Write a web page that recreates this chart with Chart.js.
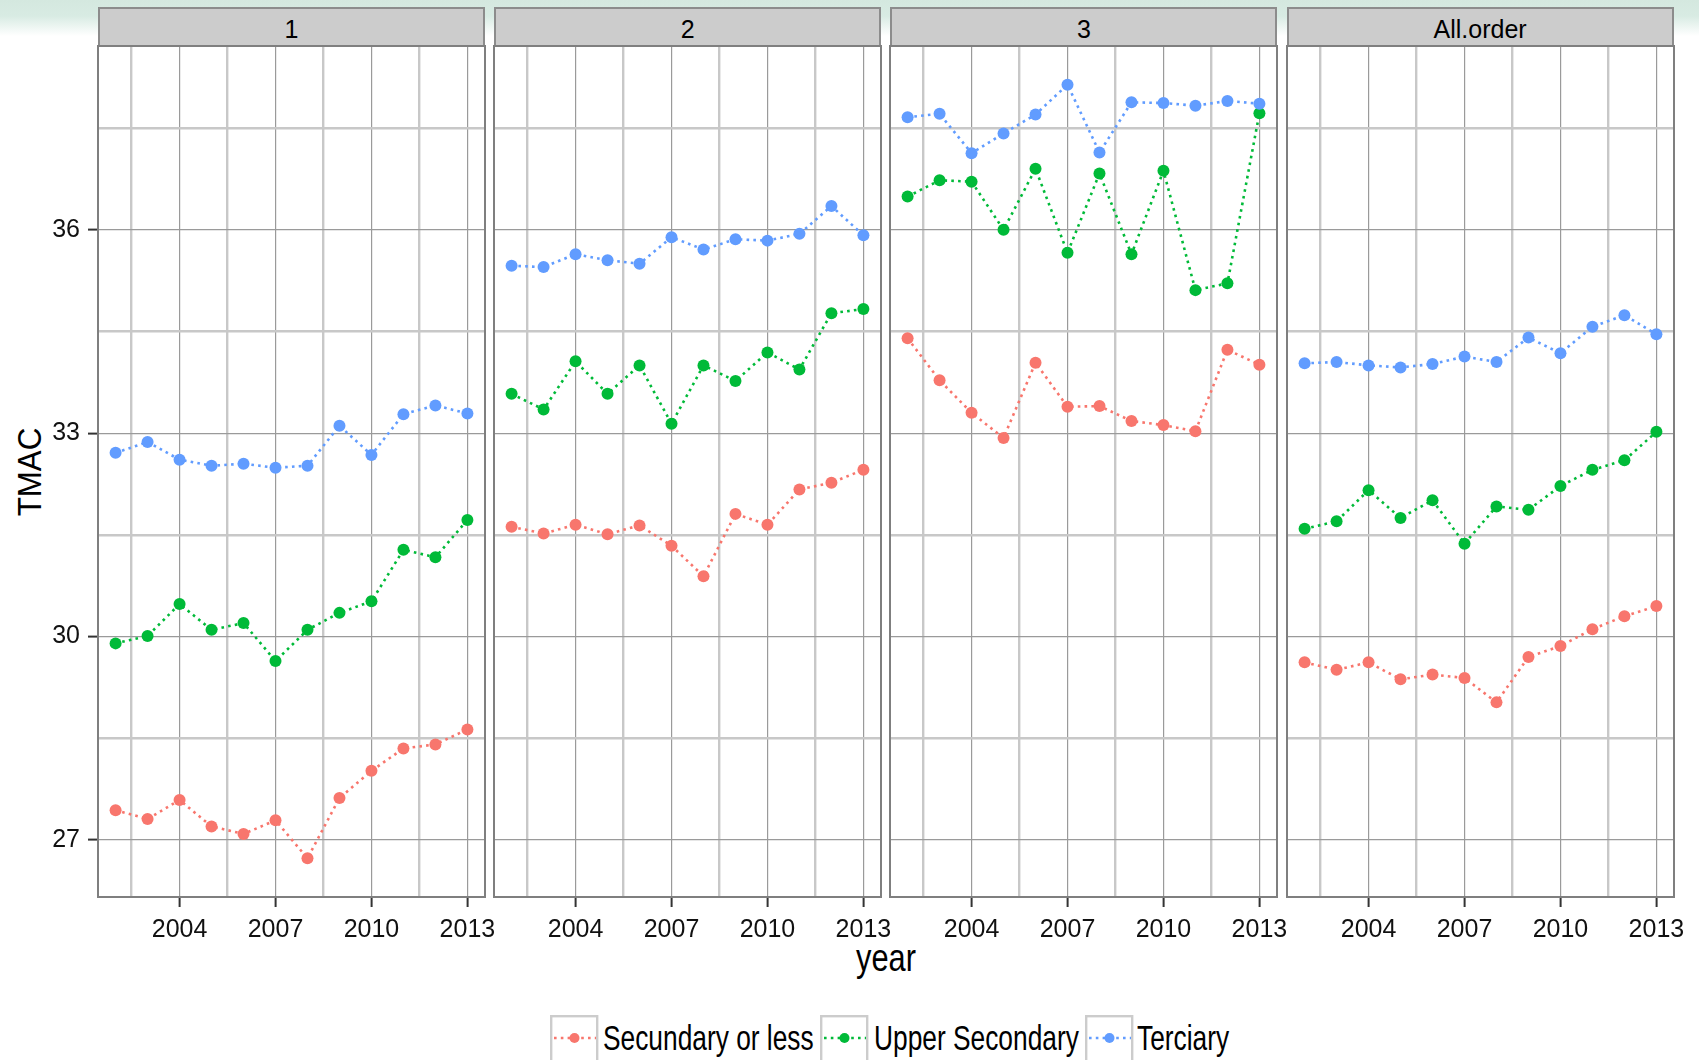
<!DOCTYPE html>
<html>
<head>
<meta charset="utf-8">
<title>TMAC by education level</title>
<script src="https://cdn.jsdelivr.net/npm/chart.js@4.4.1/dist/chart.umd.min.js"></script>
<style>
  html, body { margin: 0; padding: 0; }
  body {
    width: 1699px; height: 1060px; overflow: hidden; position: relative;
    background: #ffffff;
    font-family: "Liberation Sans", Arial, sans-serif; color: #000;
  }
  .band {
    position: absolute; left: 0; top: 0; width: 1699px; height: 40px;
    background: linear-gradient(#d4e8df 0px, #d8ebe3 16px, rgba(255,255,255,0) 36px);
  }
  .strip {
    position: absolute; top: 7px; height: 40px; box-sizing: border-box;
    background: #cccccc; border: 2px solid #8c8c8c; border-bottom: none;
    display: flex; align-items: center; justify-content: center;
    font-size: 25px; padding-top: 2px;
  }
  canvas.panel { position: absolute; }
  .ytitle {
    position: absolute; left: 29px; top: 472px; font-size: 34px; white-space: nowrap;
    transform: translate(-50%, -50%) rotate(-90deg) scaleX(0.92);
  }
  .xtitle {
    position: absolute; left: 886px; top: 958px; font-size: 39px; white-space: nowrap;
    transform: translate(-50%, -50%) scaleX(0.79);
  }
  .lkey { position: absolute; top: 1015px; }
  .ltext {
    position: absolute; top: 1017px; font-size: 35px; line-height: 42px; white-space: nowrap;
    transform: scaleX(0.752); transform-origin: left center;
  }
</style>
</head>
<body>
<div class="band"></div>
<div class="ytitle">TMAC</div>
<div class="xtitle">year</div>

<script>
// categories
const years = [2002, 2003, 2004, 2005, 2006, 2007, 2008, 2009, 2010, 2011, 2012, 2013];
const panels = ['1', '2', '3', 'All.order'];
const levels = ['Secundary or less', 'Upper Secondary', 'Terciary'];
const levelColors = ['#F8766D', '#00BA38', '#619CFF'];

// tick labels
const xBreaks = [2004, 2007, 2010, 2013];
const yBreaks = [27, 30, 33, 36];

// TMAC per panel, one array per education level
const sec1 = [27.44, 27.31, 27.59, 27.20, 27.09, 27.29, 26.73, 27.62, 28.02, 28.35, 28.41, 28.63];
const upp1 = [29.90, 30.01, 30.48, 30.10, 30.20, 29.64, 30.10, 30.35, 30.52, 31.28, 31.17, 31.72];
const ter1 = [32.71, 32.87, 32.61, 32.52, 32.55, 32.49, 32.52, 33.11, 32.68, 33.28, 33.41, 33.29];

const sec2 = [31.62, 31.52, 31.65, 31.51, 31.64, 31.34, 30.89, 31.81, 31.65, 32.17, 32.27, 32.46];
const upp2 = [33.58, 33.35, 34.06, 33.58, 34.00, 33.14, 34.00, 33.77, 34.19, 33.94, 34.77, 34.83];
const ter2 = [35.47, 35.45, 35.64, 35.55, 35.50, 35.89, 35.71, 35.86, 35.84, 35.94, 36.35, 35.92];

const sec3 = [34.40, 33.78, 33.30, 32.93, 34.04, 33.39, 33.40, 33.18, 33.12, 33.03, 34.23, 34.01];
const upp3 = [36.49, 36.73, 36.71, 36.00, 36.90, 35.66, 36.83, 35.64, 36.87, 35.11, 35.21, 37.72];
const ter3 = [37.66, 37.71, 37.13, 37.42, 37.70, 38.14, 37.14, 37.88, 37.87, 37.83, 37.90, 37.86];

const secAll = [29.62, 29.51, 29.62, 29.37, 29.44, 29.39, 29.03, 29.70, 29.86, 30.11, 30.30, 30.45];
const uppAll = [31.59, 31.70, 32.16, 31.75, 32.01, 31.37, 31.92, 31.87, 32.22, 32.46, 32.60, 33.02];
const terAll = [34.03, 34.05, 34.00, 33.97, 34.02, 34.13, 34.05, 34.41, 34.18, 34.57, 34.74, 34.46];

const panelSeries = [
  [sec1, upp1, ter1],
  [sec2, upp2, ter2],
  [sec3, upp3, ter3],
  [secAll, uppAll, terAll]
];

// shared scales, padded by 5% like ggplot does
const allValues = panelSeries.flat(2);
const yLo = Math.min(...allValues), yHi = Math.max(...allValues);
const yPad = (yHi - yLo) * 0.05;
const xPad = (years[years.length - 1] - years[0]) * 0.05;

// minor breaks halfway between the major ones
const halves = arr => arr.slice(0, -1).map((v, i) => (v + arr[i + 1]) / 2);
const xMinor = [xBreaks[0] - (xBreaks[1] - xBreaks[0]) / 2].concat(halves(xBreaks));
const yMinor = halves(yBreaks).concat([yBreaks[yBreaks.length - 1] + (yBreaks[1] - yBreaks[0]) / 2]);
const xAllTicks = xMinor.concat(xBreaks).sort((a, b) => a - b);
const yAllTicks = yMinor.concat(yBreaks).sort((a, b) => a - b);

// layout
const plotLeft = 98, plotWidth = 387, plotStep = 396.2;
const plotTop = 46, plotHeight = 851, xAxisHeight = 53;
const sidePad = 30, topPad = 30;

const tickFont = { family: '"Liberation Sans", Arial, sans-serif', size: 25 };
const isMajor = (v, list) => list.some(b => Math.abs(b - v) < 1e-6);

const panelBorder = {
  id: 'panelBorder',
  afterDraw(chart) {
    const a = chart.chartArea, c = chart.ctx;
    c.save();
    c.strokeStyle = '#7f7f7f';
    c.lineWidth = 2;
    c.strokeRect(a.left, a.top, a.right - a.left, a.bottom - a.top);
    c.restore();
  }
};

function gridFor(breaks) {
  return {
    color: ctx => isMajor(ctx.tick.value, breaks) ? '#9a9a9a' : '#c8c8c8',
    lineWidth: ctx => isMajor(ctx.tick.value, breaks) ? 1.2 : 2.4,
    tickColor: ctx => isMajor(ctx.tick.value, breaks) ? '#333333' : 'rgba(0,0,0,0)',
    tickWidth: 2,
    tickLength: 10
  };
}

panels.forEach((name, p) => {
  const left = plotLeft + p * plotStep;

  const strip = document.createElement('div');
  strip.className = 'strip';
  strip.style.left = left + 'px';
  strip.style.width = plotWidth + 'px';
  strip.textContent = name;
  document.body.appendChild(strip);

  const first = p === 0;
  const canvas = document.createElement('canvas');
  canvas.className = 'panel';
  const cw = first ? plotLeft + plotWidth + sidePad : sidePad * 2 + plotWidth;
  const ch = topPad + plotHeight + xAxisHeight;
  canvas.width = cw;
  canvas.height = ch;
  canvas.style.left = (first ? 0 : left - sidePad) + 'px';
  canvas.style.top = (plotTop - topPad) + 'px';
  document.body.appendChild(canvas);

  const datasets = levels.map((lvl, s) => ({
    label: lvl,
    data: years.map((yr, i) => ({ x: yr, y: panelSeries[p][s][i] })),
    borderColor: levelColors[s],
    backgroundColor: levelColors[s],
    borderWidth: 2.6,
    borderDash: [2.6, 4.2],
    pointRadius: 6,
    pointBorderWidth: 0,
    pointBackgroundColor: levelColors[s],
    tension: 0,
    order: levels.length - s
  }));

  new Chart(canvas, {
    type: 'line',
    data: { datasets },
    options: {
      responsive: false,
      animation: false,
      devicePixelRatio: 1,
      layout: { padding: { left: first ? 0 : sidePad, right: sidePad, top: topPad, bottom: 0 } },
      plugins: { legend: { display: false }, tooltip: { enabled: false } },
      scales: {
        x: {
          type: 'linear',
          min: years[0] - xPad,
          max: years[years.length - 1] + xPad,
          afterBuildTicks: s => { s.ticks = xAllTicks.map(v => ({ value: v })); },
          afterFit: s => { s.height = xAxisHeight; },
          grid: gridFor(xBreaks),
          border: { display: false },
          ticks: {
            autoSkip: false, maxRotation: 0, padding: 8,
            color: '#111', font: tickFont,
            callback: v => isMajor(v, xBreaks) ? String(v) : ''
          }
        },
        y: {
          type: 'linear',
          min: yLo - yPad,
          max: yHi + yPad,
          afterBuildTicks: s => { s.ticks = yAllTicks.map(v => ({ value: v })); },
          afterFit: s => { s.width = first ? plotLeft : 0; },
          grid: Object.assign(gridFor(yBreaks), { drawTicks: first }),
          border: { display: false },
          ticks: {
            display: first, autoSkip: false, padding: 8,
            color: '#111', font: tickFont,
            callback: v => isMajor(v, yBreaks) ? String(v) : ''
          }
        }
      }
    },
    plugins: [panelBorder]
  });
});

// legend at the bottom
const keyLefts = [550, 820, 1085];
const textLefts = [603, 874, 1137];
levels.forEach((lvl, s) => {
  const key = document.createElement('canvas');
  key.className = 'lkey';
  key.width = 49; key.height = 45;
  key.style.left = keyLefts[s] + 'px';
  document.body.appendChild(key);
  const c = key.getContext('2d');
  c.strokeStyle = '#cccccc'; c.lineWidth = 2.4;
  c.strokeRect(1.2, 1.2, 46, 60);
  c.strokeStyle = levelColors[s]; c.lineWidth = 2.6;
  c.setLineDash([2.6, 4.2]);
  c.beginPath(); c.moveTo(4, 23); c.lineTo(46, 23); c.stroke();
  c.fillStyle = levelColors[s];
  c.beginPath(); c.arc(24.5, 23, 5, 0, Math.PI * 2); c.fill();

  const t = document.createElement('div');
  t.className = 'ltext';
  t.style.left = textLefts[s] + 'px';
  t.textContent = lvl;
  document.body.appendChild(t);
});
</script>
</body>
</html>
